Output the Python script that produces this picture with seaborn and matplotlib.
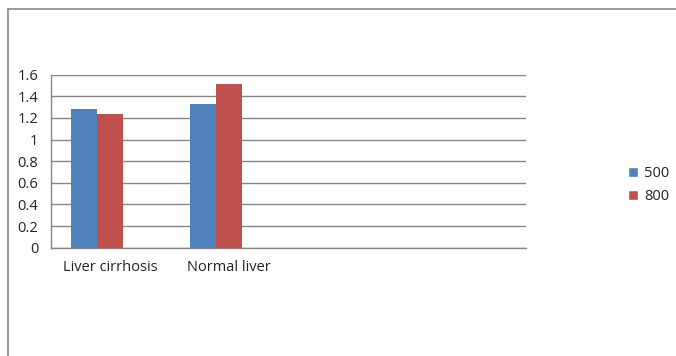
import matplotlib
matplotlib.use("Agg")
import matplotlib.pyplot as plt
import seaborn as sns
import pandas as pd
from matplotlib.patches import Patch
from matplotlib.lines import Line2D

categories = ["Liver cirrhosis", "Normal liver", "", ""]
series_names = ["500", "800", "s3"]
values_500 = [1.28, 1.33]
values_800 = [1.24, 1.51]
values_s3 = [0.0, 0.0]
yticks = [0, 0.2, 0.4, 0.6, 0.8, 1, 1.2, 1.4, 1.6]
ytick_labels = ["0", "0.2", "0.4", "0.6", "0.8", "1", "1.2", "1.4", "1.6"]
colors = ["#4F81BD", "#C0504D", "#9BBB59"]

sns.set_style("white")
plt.rcParams["font.family"] = ["Open Sans", "DejaVu Sans"]
FS = 10.5

cat_keys = ["c0", "c1", "c2", "c3"]
rows = []
for i, key in enumerate(cat_keys[:2]):
    rows.append({"cat": key, "series": "500", "value": values_500[i]})
    rows.append({"cat": key, "series": "800", "value": values_800[i]})
    rows.append({"cat": key, "series": "s3", "value": values_s3[i]})
df = pd.DataFrame(rows)

fig = plt.figure(figsize=(6.76, 3.56), dpi=100)
ax = fig.add_axes([0.075, 0.3042, 0.7027, 0.486])

sns.barplot(data=df, x="cat", y="value", hue="series", order=cat_keys,
            hue_order=series_names, palette=colors, width=0.652,
            saturation=1, ax=ax, legend=False, linewidth=0, errorbar=None)

ax.set_xlim(-0.5, 3.5)
ax.set_ylim(0, 1.6)
ax.set_yticks(yticks)
ax.set_yticklabels(ytick_labels)
ax.yaxis.grid(True, color="#868686", linewidth=1)
ax.set_axisbelow(True)
ax.set_xlabel("")
ax.set_ylabel("")

ax.set_xticks(range(4))
ax.set_xticklabels(categories)
ax.set_xticks([-0.5, 0.5, 1.5, 2.5, 3.5], minor=True)
ax.tick_params(axis="x", which="major", length=0, pad=9, labelsize=FS, colors="#222222")
ax.tick_params(axis="x", which="minor", length=5, width=1, color="#868686", direction="out")
ax.tick_params(axis="y", which="major", length=6, width=1, color="#868686", direction="out",
               labelsize=FS, labelcolor="#222222", pad=3)

for s in ["top", "right"]:
    ax.spines[s].set_visible(False)
for s in ["left", "bottom"]:
    ax.spines[s].set_color("#868686")
    ax.spines[s].set_linewidth(1)

handles = [Patch(facecolor=colors[0], label="500"), Patch(facecolor=colors[1], label="800")]
fig.legend(handles=handles, loc="center left", bbox_to_anchor=(0.91, 0.48),
           frameon=False, fontsize=FS, handlelength=0.7, handleheight=0.7,
           handletextpad=0.4, labelspacing=0.6, labelcolor="#222222")

fig.add_artist(Line2D([7.5/676, 1], [1-8.5/356, 1-8.5/356], color="#888888", linewidth=1.2,
                      transform=fig.transFigure))
fig.add_artist(Line2D([7.5/676, 7.5/676], [0, 1-8.5/356], color="#888888", linewidth=1.2,
                      transform=fig.transFigure))

fig.savefig("out.png", dpi=100)
